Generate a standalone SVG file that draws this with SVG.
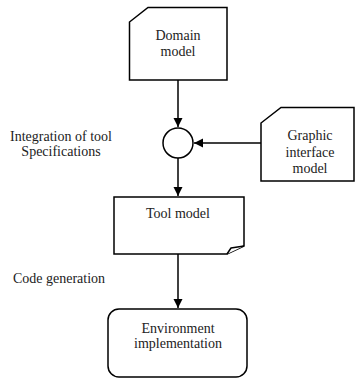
<svg xmlns="http://www.w3.org/2000/svg" width="355" height="380" viewBox="0 0 355 380">
<style>
.s{fill:#fff;stroke:#000;stroke-width:1.5}
.t{font-family:'Liberation Serif','Times New Roman',Times,serif;font-size:14px;fill:#222;text-anchor:middle}
.c{stroke:#000;stroke-width:1.5;fill:none}
</style>
<defs>
<marker id="a" markerWidth="10" markerHeight="10" refX="9" refY="5" orient="auto" markerUnits="userSpaceOnUse">
<path d="M0,0.5 L9,5 L0,9.5 Z" fill="#000"/>
</marker>
</defs>
<rect width="355" height="380" fill="#fff"/>
<g id="connectors">
<line class="c" x1="178" y1="80" x2="178" y2="127" marker-end="url(#a)"/>
<line class="c" x1="261" y1="143" x2="194" y2="143" marker-end="url(#a)"/>
<line class="c" x1="178" y1="158" x2="178" y2="196" marker-end="url(#a)"/>
<line class="c" x1="178" y1="254" x2="178" y2="308" marker-end="url(#a)"/>
</g>
<g id="domain-model">
<path class="s" d="M148,7.5 L227,7.5 L227,80 L129.5,80 L129.5,22 Z"/>
<text class="t" x="178" y="40">Domain</text>
<text class="t" x="178" y="56">model</text>
</g>
<g id="integration">
<circle class="s" cx="178" cy="143" r="15"/>
</g>
<text class="t" x="61" y="141">Integration of tool</text>
<text class="t" x="61" y="156">Specifications</text>
<g id="graphic-interface-model">
<path class="s" d="M281,107.5 L354,107.5 L354,181 L261,181 L261,123 Z"/>
<text class="t" x="310" y="140">Graphic</text>
<text class="t" x="310" y="156.5">interface</text>
<text class="t" x="310" y="172.5">model</text>
</g>
<g id="tool-model">
<path class="s" d="M114,197 L244,197 L244,246 L227,254 L114,254 Z"/>
<path class="s" d="M227,254 L231,248 L244,246" stroke-linejoin="round"/>
<text class="t" x="178" y="218">Tool model</text>
</g>
<text class="t" x="59" y="283">Code generation</text>
<g id="environment-implementation">
<rect class="s" x="108" y="309" width="139" height="68" rx="11" ry="11"/>
<text class="t" x="178" y="333">Environment</text>
<text class="t" x="178" y="348">implementation</text>
</g>
</svg>
